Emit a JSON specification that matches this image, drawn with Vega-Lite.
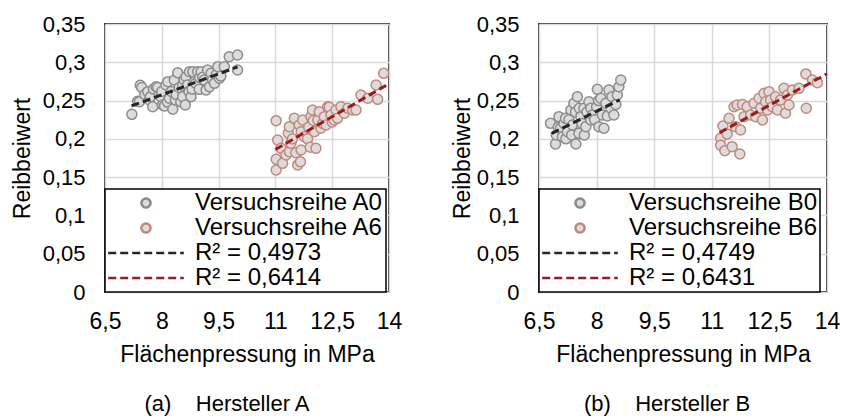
{
  "$schema": "https://vega.github.io/schema/vega-lite/v6.json",
  "background": "white",
  "padding": {"left": 10, "top": 12, "right": 2, "bottom": 2},
  "spacing": 47,
  "resolve": {"scale": {"stroke": "independent", "shape": "independent", "strokeDash": "independent"}},
  "config": {
    "font": "Liberation Sans",
    "locale": {"number": {"decimal": ",", "thousands": ".", "grouping": [3], "currency": ["", " €"]}},
    "view": {"stroke": "#333333", "strokeWidth": 2},
    "axis": {"labelFontSize": 23, "titleFontSize": 23, "labelColor": "#000000", "titleColor": "#000000", "titleFontWeight": "normal", "gridColor": "#d9d9d9", "gridWidth": 1.5, "domain": false, "ticks": false, "labelOverlap": false, "labelFlush": false, "labelBound": false},
    "legend": {"orient": "bottom-left", "offset": 0, "padding": 2, "fillColor": "white", "strokeColor": "#000000", "strokeWidth": 1.5, "labelFontSize": 24, "labelColor": "#000000", "symbolSize": 81, "symbolOffset": 27, "labelOffset": 37, "rowPadding": 1, "labelLimit": 400, "symbolStrokeWidth": 2.5},
    "title": {"fontSize": 22, "fontWeight": "normal", "color": "#000000", "font": "Liberation Sans"}
  },
  "datasets": {
    "pointsA": [
      {"series": "Versuchsreihe A0", "x": 7.21, "y": 0.232},
      {"series": "Versuchsreihe A0", "x": 7.36, "y": 0.249},
      {"series": "Versuchsreihe A0", "x": 7.41, "y": 0.2485},
      {"series": "Versuchsreihe A0", "x": 7.43, "y": 0.27},
      {"series": "Versuchsreihe A0", "x": 7.47, "y": 0.267},
      {"series": "Versuchsreihe A0", "x": 7.55, "y": 0.258},
      {"series": "Versuchsreihe A0", "x": 7.63, "y": 0.2616},
      {"series": "Versuchsreihe A0", "x": 7.67, "y": 0.2507},
      {"series": "Versuchsreihe A0", "x": 7.7, "y": 0.255},
      {"series": "Versuchsreihe A0", "x": 7.76, "y": 0.242},
      {"series": "Versuchsreihe A0", "x": 7.78, "y": 0.265},
      {"series": "Versuchsreihe A0", "x": 7.85, "y": 0.268},
      {"series": "Versuchsreihe A0", "x": 7.89, "y": 0.267},
      {"series": "Versuchsreihe A0", "x": 7.93, "y": 0.2573},
      {"series": "Versuchsreihe A0", "x": 7.98, "y": 0.255},
      {"series": "Versuchsreihe A0", "x": 8.0, "y": 0.262},
      {"series": "Versuchsreihe A0", "x": 8.02, "y": 0.2442},
      {"series": "Versuchsreihe A0", "x": 8.07, "y": 0.243},
      {"series": "Versuchsreihe A0", "x": 8.11, "y": 0.2703},
      {"series": "Versuchsreihe A0", "x": 8.15, "y": 0.248},
      {"series": "Versuchsreihe A0", "x": 8.16, "y": 0.2747},
      {"series": "Versuchsreihe A0", "x": 8.2, "y": 0.253},
      {"series": "Versuchsreihe A0", "x": 8.25, "y": 0.262},
      {"series": "Versuchsreihe A0", "x": 8.29, "y": 0.2386},
      {"series": "Versuchsreihe A0", "x": 8.33, "y": 0.2768},
      {"series": "Versuchsreihe A0", "x": 8.36, "y": 0.2507},
      {"series": "Versuchsreihe A0", "x": 8.38, "y": 0.258},
      {"series": "Versuchsreihe A0", "x": 8.42, "y": 0.2864},
      {"series": "Versuchsreihe A0", "x": 8.46, "y": 0.267},
      {"series": "Versuchsreihe A0", "x": 8.5, "y": 0.2485},
      {"series": "Versuchsreihe A0", "x": 8.55, "y": 0.255},
      {"series": "Versuchsreihe A0", "x": 8.55, "y": 0.27},
      {"series": "Versuchsreihe A0", "x": 8.59, "y": 0.2768},
      {"series": "Versuchsreihe A0", "x": 8.62, "y": 0.2442},
      {"series": "Versuchsreihe A0", "x": 8.64, "y": 0.2812},
      {"series": "Versuchsreihe A0", "x": 8.68, "y": 0.2703},
      {"series": "Versuchsreihe A0", "x": 8.72, "y": 0.262},
      {"series": "Versuchsreihe A0", "x": 8.73, "y": 0.2877},
      {"series": "Versuchsreihe A0", "x": 8.77, "y": 0.255},
      {"series": "Versuchsreihe A0", "x": 8.8, "y": 0.265},
      {"series": "Versuchsreihe A0", "x": 8.82, "y": 0.2877},
      {"series": "Versuchsreihe A0", "x": 8.86, "y": 0.2747},
      {"series": "Versuchsreihe A0", "x": 8.9, "y": 0.2725},
      {"series": "Versuchsreihe A0", "x": 8.95, "y": 0.2877},
      {"series": "Versuchsreihe A0", "x": 8.99, "y": 0.2647},
      {"series": "Versuchsreihe A0", "x": 9.0, "y": 0.28},
      {"series": "Versuchsreihe A0", "x": 9.04, "y": 0.2877},
      {"series": "Versuchsreihe A0", "x": 9.08, "y": 0.2804},
      {"series": "Versuchsreihe A0", "x": 9.12, "y": 0.2768},
      {"series": "Versuchsreihe A0", "x": 9.17, "y": 0.2638},
      {"series": "Versuchsreihe A0", "x": 9.21, "y": 0.29},
      {"series": "Versuchsreihe A0", "x": 9.26, "y": 0.2681},
      {"series": "Versuchsreihe A0", "x": 9.3, "y": 0.2856},
      {"series": "Versuchsreihe A0", "x": 9.34, "y": 0.2768},
      {"series": "Versuchsreihe A0", "x": 9.39, "y": 0.2725},
      {"series": "Versuchsreihe A0", "x": 9.44, "y": 0.284},
      {"series": "Versuchsreihe A0", "x": 9.48, "y": 0.2943},
      {"series": "Versuchsreihe A0", "x": 9.52, "y": 0.2791},
      {"series": "Versuchsreihe A0", "x": 9.56, "y": 0.282},
      {"series": "Versuchsreihe A0", "x": 9.65, "y": 0.2943},
      {"series": "Versuchsreihe A0", "x": 9.78, "y": 0.3073},
      {"series": "Versuchsreihe A0", "x": 10.0, "y": 0.3095},
      {"series": "Versuchsreihe A0", "x": 10.0, "y": 0.29},
      {"series": "Versuchsreihe A6", "x": 11.02, "y": 0.2238},
      {"series": "Versuchsreihe A6", "x": 11.02, "y": 0.1733},
      {"series": "Versuchsreihe A6", "x": 11.02, "y": 0.1593},
      {"series": "Versuchsreihe A6", "x": 11.06, "y": 0.1985},
      {"series": "Versuchsreihe A6", "x": 11.15, "y": 0.1876},
      {"series": "Versuchsreihe A6", "x": 11.19, "y": 0.168},
      {"series": "Versuchsreihe A6", "x": 11.28, "y": 0.179},
      {"series": "Versuchsreihe A6", "x": 11.34, "y": 0.2072},
      {"series": "Versuchsreihe A6", "x": 11.37, "y": 0.2159},
      {"series": "Versuchsreihe A6", "x": 11.37, "y": 0.1832},
      {"series": "Versuchsreihe A6", "x": 11.41, "y": 0.1942},
      {"series": "Versuchsreihe A6", "x": 11.45, "y": 0.2},
      {"series": "Versuchsreihe A6", "x": 11.5, "y": 0.2268},
      {"series": "Versuchsreihe A6", "x": 11.54, "y": 0.1819},
      {"series": "Versuchsreihe A6", "x": 11.59, "y": 0.166},
      {"series": "Versuchsreihe A6", "x": 11.63, "y": 0.2181},
      {"series": "Versuchsreihe A6", "x": 11.66, "y": 0.17},
      {"series": "Versuchsreihe A6", "x": 11.68, "y": 0.2094},
      {"series": "Versuchsreihe A6", "x": 11.68, "y": 0.1855},
      {"series": "Versuchsreihe A6", "x": 11.72, "y": 0.2246},
      {"series": "Versuchsreihe A6", "x": 11.76, "y": 0.2028},
      {"series": "Versuchsreihe A6", "x": 11.85, "y": 0.2},
      {"series": "Versuchsreihe A6", "x": 11.88, "y": 0.215},
      {"series": "Versuchsreihe A6", "x": 11.92, "y": 0.189},
      {"series": "Versuchsreihe A6", "x": 11.94, "y": 0.229},
      {"series": "Versuchsreihe A6", "x": 11.98, "y": 0.2377},
      {"series": "Versuchsreihe A6", "x": 12.0, "y": 0.224},
      {"series": "Versuchsreihe A6", "x": 12.03, "y": 0.2094},
      {"series": "Versuchsreihe A6", "x": 12.07, "y": 0.1876},
      {"series": "Versuchsreihe A6", "x": 12.12, "y": 0.2246},
      {"series": "Versuchsreihe A6", "x": 12.16, "y": 0.2355},
      {"series": "Versuchsreihe A6", "x": 12.2, "y": 0.2138},
      {"series": "Versuchsreihe A6", "x": 12.25, "y": 0.22},
      {"series": "Versuchsreihe A6", "x": 12.29, "y": 0.229},
      {"series": "Versuchsreihe A6", "x": 12.34, "y": 0.2181},
      {"series": "Versuchsreihe A6", "x": 12.38, "y": 0.242},
      {"series": "Versuchsreihe A6", "x": 12.42, "y": 0.2412},
      {"series": "Versuchsreihe A6", "x": 12.47, "y": 0.2312},
      {"series": "Versuchsreihe A6", "x": 12.5, "y": 0.222},
      {"series": "Versuchsreihe A6", "x": 12.55, "y": 0.2246},
      {"series": "Versuchsreihe A6", "x": 12.6, "y": 0.2377},
      {"series": "Versuchsreihe A6", "x": 12.64, "y": 0.2268},
      {"series": "Versuchsreihe A6", "x": 12.73, "y": 0.242},
      {"series": "Versuchsreihe A6", "x": 12.82, "y": 0.2334},
      {"series": "Versuchsreihe A6", "x": 12.91, "y": 0.2399},
      {"series": "Versuchsreihe A6", "x": 13.04, "y": 0.2377},
      {"series": "Versuchsreihe A6", "x": 13.13, "y": 0.2377},
      {"series": "Versuchsreihe A6", "x": 13.26, "y": 0.2573},
      {"series": "Versuchsreihe A6", "x": 13.44, "y": 0.253},
      {"series": "Versuchsreihe A6", "x": 13.66, "y": 0.2703},
      {"series": "Versuchsreihe A6", "x": 13.7, "y": 0.2516},
      {"series": "Versuchsreihe A6", "x": 13.86, "y": 0.2856}
    ],
    "linesA": [
      {"series": "R² = 0,4973", "x": 7.2, "y": 0.243},
      {"series": "R² = 0,4973", "x": 10.0, "y": 0.294},
      {"series": "R² = 0,6414", "x": 11.0, "y": 0.186},
      {"series": "R² = 0,6414", "x": 14.0, "y": 0.272}
    ],
    "pointsB": [
      {"series": "Versuchsreihe B0", "x": 6.8, "y": 0.2203},
      {"series": "Versuchsreihe B0", "x": 6.93, "y": 0.1933},
      {"series": "Versuchsreihe B0", "x": 6.95, "y": 0.205},
      {"series": "Versuchsreihe B0", "x": 7.0, "y": 0.215},
      {"series": "Versuchsreihe B0", "x": 7.02, "y": 0.229},
      {"series": "Versuchsreihe B0", "x": 7.06, "y": 0.2138},
      {"series": "Versuchsreihe B0", "x": 7.11, "y": 0.2028},
      {"series": "Versuchsreihe B0", "x": 7.15, "y": 0.22},
      {"series": "Versuchsreihe B0", "x": 7.19, "y": 0.2268},
      {"series": "Versuchsreihe B0", "x": 7.2, "y": 0.2},
      {"series": "Versuchsreihe B0", "x": 7.24, "y": 0.2094},
      {"series": "Versuchsreihe B0", "x": 7.28, "y": 0.225},
      {"series": "Versuchsreihe B0", "x": 7.33, "y": 0.2377},
      {"series": "Versuchsreihe B0", "x": 7.35, "y": 0.205},
      {"series": "Versuchsreihe B0", "x": 7.37, "y": 0.2181},
      {"series": "Versuchsreihe B0", "x": 7.41, "y": 0.2464},
      {"series": "Versuchsreihe B0", "x": 7.45, "y": 0.235},
      {"series": "Versuchsreihe B0", "x": 7.46, "y": 0.1933},
      {"series": "Versuchsreihe B0", "x": 7.5, "y": 0.255},
      {"series": "Versuchsreihe B0", "x": 7.54, "y": 0.2072},
      {"series": "Versuchsreihe B0", "x": 7.55, "y": 0.24},
      {"series": "Versuchsreihe B0", "x": 7.59, "y": 0.229},
      {"series": "Versuchsreihe B0", "x": 7.62, "y": 0.22},
      {"series": "Versuchsreihe B0", "x": 7.67, "y": 0.2399},
      {"series": "Versuchsreihe B0", "x": 7.68, "y": 0.205},
      {"series": "Versuchsreihe B0", "x": 7.72, "y": 0.2159},
      {"series": "Versuchsreihe B0", "x": 7.75, "y": 0.235},
      {"series": "Versuchsreihe B0", "x": 7.8, "y": 0.2485},
      {"series": "Versuchsreihe B0", "x": 7.85, "y": 0.2246},
      {"series": "Versuchsreihe B0", "x": 7.85, "y": 0.24},
      {"series": "Versuchsreihe B0", "x": 7.89, "y": 0.2312},
      {"series": "Versuchsreihe B0", "x": 7.95, "y": 0.225},
      {"series": "Versuchsreihe B0", "x": 8.0, "y": 0.242},
      {"series": "Versuchsreihe B0", "x": 8.02, "y": 0.2647},
      {"series": "Versuchsreihe B0", "x": 8.05, "y": 0.25},
      {"series": "Versuchsreihe B0", "x": 8.06, "y": 0.2159},
      {"series": "Versuchsreihe B0", "x": 8.11, "y": 0.253},
      {"series": "Versuchsreihe B0", "x": 8.15, "y": 0.2312},
      {"series": "Versuchsreihe B0", "x": 8.19, "y": 0.2138},
      {"series": "Versuchsreihe B0", "x": 8.24, "y": 0.2464},
      {"series": "Versuchsreihe B0", "x": 8.28, "y": 0.23},
      {"series": "Versuchsreihe B0", "x": 8.32, "y": 0.2638},
      {"series": "Versuchsreihe B0", "x": 8.37, "y": 0.2399},
      {"series": "Versuchsreihe B0", "x": 8.4, "y": 0.255},
      {"series": "Versuchsreihe B0", "x": 8.45, "y": 0.2312},
      {"series": "Versuchsreihe B0", "x": 8.5, "y": 0.245},
      {"series": "Versuchsreihe B0", "x": 8.54, "y": 0.2573},
      {"series": "Versuchsreihe B0", "x": 8.58, "y": 0.2681},
      {"series": "Versuchsreihe B0", "x": 8.63, "y": 0.2768},
      {"series": "Versuchsreihe B6", "x": 11.23, "y": 0.2007},
      {"series": "Versuchsreihe B6", "x": 11.23, "y": 0.1916},
      {"series": "Versuchsreihe B6", "x": 11.29, "y": 0.2168},
      {"series": "Versuchsreihe B6", "x": 11.34, "y": 0.1846},
      {"series": "Versuchsreihe B6", "x": 11.4, "y": 0.2064},
      {"series": "Versuchsreihe B6", "x": 11.45, "y": 0.2268},
      {"series": "Versuchsreihe B6", "x": 11.53, "y": 0.1898},
      {"series": "Versuchsreihe B6", "x": 11.58, "y": 0.242},
      {"series": "Versuchsreihe B6", "x": 11.62, "y": 0.2159},
      {"series": "Versuchsreihe B6", "x": 11.66, "y": 0.2442},
      {"series": "Versuchsreihe B6", "x": 11.73, "y": 0.1803},
      {"series": "Versuchsreihe B6", "x": 11.75, "y": 0.2116},
      {"series": "Versuchsreihe B6", "x": 11.8, "y": 0.245},
      {"series": "Versuchsreihe B6", "x": 11.84, "y": 0.229},
      {"series": "Versuchsreihe B6", "x": 11.92, "y": 0.242},
      {"series": "Versuchsreihe B6", "x": 12.01, "y": 0.2312},
      {"series": "Versuchsreihe B6", "x": 12.1, "y": 0.2464},
      {"series": "Versuchsreihe B6", "x": 12.14, "y": 0.229},
      {"series": "Versuchsreihe B6", "x": 12.23, "y": 0.253},
      {"series": "Versuchsreihe B6", "x": 12.27, "y": 0.2399},
      {"series": "Versuchsreihe B6", "x": 12.32, "y": 0.2246},
      {"series": "Versuchsreihe B6", "x": 12.36, "y": 0.2594},
      {"series": "Versuchsreihe B6", "x": 12.4, "y": 0.2485},
      {"series": "Versuchsreihe B6", "x": 12.45, "y": 0.2377},
      {"series": "Versuchsreihe B6", "x": 12.49, "y": 0.2616},
      {"series": "Versuchsreihe B6", "x": 12.53, "y": 0.2507},
      {"series": "Versuchsreihe B6", "x": 12.58, "y": 0.242},
      {"series": "Versuchsreihe B6", "x": 12.66, "y": 0.255},
      {"series": "Versuchsreihe B6", "x": 12.71, "y": 0.2377},
      {"series": "Versuchsreihe B6", "x": 12.79, "y": 0.2507},
      {"series": "Versuchsreihe B6", "x": 12.88, "y": 0.266},
      {"series": "Versuchsreihe B6", "x": 12.92, "y": 0.2334},
      {"series": "Versuchsreihe B6", "x": 12.97, "y": 0.2573},
      {"series": "Versuchsreihe B6", "x": 13.01, "y": 0.2442},
      {"series": "Versuchsreihe B6", "x": 13.1, "y": 0.2638},
      {"series": "Versuchsreihe B6", "x": 13.27, "y": 0.266},
      {"series": "Versuchsreihe B6", "x": 13.45, "y": 0.2848},
      {"series": "Versuchsreihe B6", "x": 13.46, "y": 0.2399},
      {"series": "Versuchsreihe B6", "x": 13.62, "y": 0.2768},
      {"series": "Versuchsreihe B6", "x": 13.75, "y": 0.2734}
    ],
    "linesB": [
      {"series": "R² = 0,4749", "x": 6.83, "y": 0.207},
      {"series": "R² = 0,4749", "x": 8.6, "y": 0.251},
      {"series": "R² = 0,6431", "x": 11.2, "y": 0.208},
      {"series": "R² = 0,6431", "x": 14.0, "y": 0.285}
    ]
  },
  "hconcat": [
    {
      "width": 284,
      "height": 268,
      "title": {"text": "(a)\u00a0\u00a0\u00a0\u00a0Hersteller A", "orient": "bottom", "anchor": "middle", "offset": 28, "dx": -20},
      "layer": [
        {
          "data": {"name": "pointsA"},
          "mark": {"type": "point", "filled": true, "fill": "#dcdcdc", "size": 100, "strokeWidth": 1.5, "opacity": 1},
          "encoding": {
            "x": {"field": "x", "type": "quantitative", "scale": {"domain": [6.5, 14], "nice": false, "zero": false}, "axis": {"values": [6.5, 8, 9.5, 11, 12.5, 14], "tickCount": 10, "format": ".3~g", "title": "Flächenpressung in MPa", "labelPadding": 18, "titlePadding": 10, "labelOverlap": false}},
            "y": {"field": "y", "type": "quantitative", "scale": {"domain": [0, 0.35], "nice": false}, "axis": {"values": [0, 0.05, 0.1, 0.15, 0.2, 0.25, 0.3, 0.35], "tickCount": 10, "format": ".3~g", "title": "Reibbeiwert", "labelPadding": 20, "titlePadding": 8, "labelFontSize": 22, "labelOverlap": false}},
            "stroke": {"field": "series", "type": "nominal", "scale": {"domain": ["Versuchsreihe A0", "Versuchsreihe A6", "R² = 0,4973", "R² = 0,6414"], "range": ["#8c8c8c", "#c4887c", "#262626", "#9c1c1c"]}, "legend": {"title": null}},
            "shape": {"field": "series", "type": "nominal", "scale": {"domain": ["Versuchsreihe A0", "Versuchsreihe A6", "R² = 0,4973", "R² = 0,6414"], "range": ["circle", "circle", "M-8.4,0H8.4", "M-8.4,0H8.4"]}, "legend": {"title": null}}
          }
        },
        {
          "data": {"name": "linesA"},
          "mark": {"type": "line", "strokeWidth": 3},
          "encoding": {
            "x": {"field": "x", "type": "quantitative", "axis": {"labelOverlap": false, "tickCount": 10}},
            "y": {"field": "y", "type": "quantitative", "axis": {"labelOverlap": false, "tickCount": 10}},
            "stroke": {"field": "series", "type": "nominal", "scale": {"domain": ["Versuchsreihe A0", "Versuchsreihe A6", "R² = 0,4973", "R² = 0,6414"], "range": ["#8c8c8c", "#c4887c", "#262626", "#9c1c1c"]}, "legend": {"title": null}},
            "strokeDash": {"field": "series", "type": "nominal", "scale": {"domain": ["Versuchsreihe A0", "Versuchsreihe A6", "R² = 0,4973", "R² = 0,6414"], "range": [[1, 0], [1, 0], [8, 4], [8, 4]]}, "legend": {"title": null}}
          }
        }
      ]
    },
    {
      "width": 288,
      "height": 268,
      "title": {"text": "(b)\u00a0\u00a0\u00a0\u00a0Hersteller B", "orient": "bottom", "anchor": "middle", "offset": 28, "dx": -16},
      "layer": [
        {
          "data": {"name": "pointsB"},
          "mark": {"type": "point", "filled": true, "fill": "#dcdcdc", "size": 100, "strokeWidth": 1.5, "opacity": 1},
          "encoding": {
            "x": {"field": "x", "type": "quantitative", "scale": {"domain": [6.5, 14], "nice": false, "zero": false}, "axis": {"values": [6.5, 8, 9.5, 11, 12.5, 14], "tickCount": 10, "format": ".3~g", "title": "Flächenpressung in MPa", "labelPadding": 18, "titlePadding": 10, "labelOverlap": false}},
            "y": {"field": "y", "type": "quantitative", "scale": {"domain": [0, 0.35], "nice": false}, "axis": {"values": [0, 0.05, 0.1, 0.15, 0.2, 0.25, 0.3, 0.35], "tickCount": 10, "format": ".3~g", "title": "Reibbeiwert", "labelPadding": 20, "titlePadding": 2, "labelFontSize": 22, "labelOverlap": false}},
            "stroke": {"field": "series", "type": "nominal", "scale": {"domain": ["Versuchsreihe B0", "Versuchsreihe B6", "R² = 0,4749", "R² = 0,6431"], "range": ["#8c8c8c", "#c4887c", "#262626", "#9c1c1c"]}, "legend": {"title": null}},
            "shape": {"field": "series", "type": "nominal", "scale": {"domain": ["Versuchsreihe B0", "Versuchsreihe B6", "R² = 0,4749", "R² = 0,6431"], "range": ["circle", "circle", "M-8.4,0H8.4", "M-8.4,0H8.4"]}, "legend": {"title": null}}
          }
        },
        {
          "data": {"name": "linesB"},
          "mark": {"type": "line", "strokeWidth": 3},
          "encoding": {
            "x": {"field": "x", "type": "quantitative", "axis": {"labelOverlap": false, "tickCount": 10}},
            "y": {"field": "y", "type": "quantitative", "axis": {"labelOverlap": false, "tickCount": 10}},
            "stroke": {"field": "series", "type": "nominal", "scale": {"domain": ["Versuchsreihe B0", "Versuchsreihe B6", "R² = 0,4749", "R² = 0,6431"], "range": ["#8c8c8c", "#c4887c", "#262626", "#9c1c1c"]}, "legend": {"title": null}},
            "strokeDash": {"field": "series", "type": "nominal", "scale": {"domain": ["Versuchsreihe B0", "Versuchsreihe B6", "R² = 0,4749", "R² = 0,6431"], "range": [[1, 0], [1, 0], [8, 4], [8, 4]]}, "legend": {"title": null}}
          }
        }
      ]
    }
  ]
}
